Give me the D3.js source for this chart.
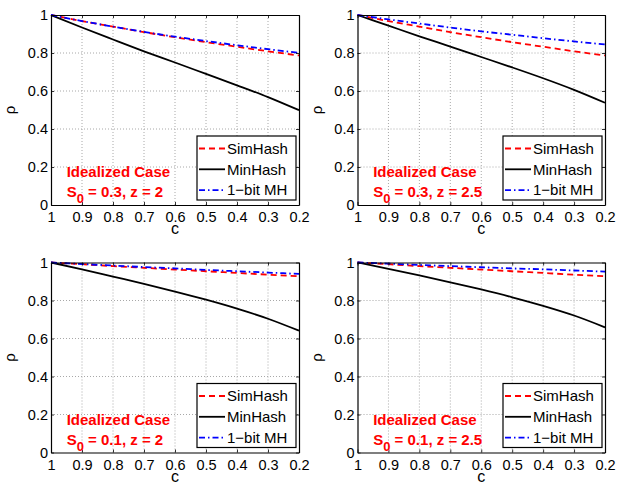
<!DOCTYPE html>
<html>
<head>
<meta charset="utf-8">
<script src="https://cdn.jsdelivr.net/npm/d3@7"></script>
<style>
  html, body { margin: 0; padding: 0; background: #fff; }
  svg { display: block; }
  text { font-family: "Liberation Sans", Arial, Helvetica, sans-serif; }
</style>
</head>
<body>
<svg id="chart" width="618" height="482"></svg>
<script>
// ---------- data ----------
const cValues = [1, 0.9, 0.8, 0.7, 0.6, 0.5, 0.4, 0.3, 0.2];
const xTicks = [1, 0.9, 0.8, 0.7, 0.6, 0.5, 0.4, 0.3, 0.2];
const xTickLabels = ["1", "0.9", "0.8", "0.7", "0.6", "0.5", "0.4", "0.3", "0.2"];
const yTicks = [0, 0.2, 0.4, 0.6, 0.8, 1];
const yTickLabels = ["0", "0.2", "0.4", "0.6", "0.8", "1"];
const seriesNames = ["SimHash", "MinHash", "1\u2212bit MH"];

// panel 1: S0 = 0.3, z = 2
const simHashA = [1, 0.968, 0.939, 0.910, 0.883, 0.857, 0.833, 0.809, 0.787];
const minHashA = [1, 0.934, 0.871, 0.809, 0.750, 0.690, 0.630, 0.568, 0.499];
const oneBitA  = [1, 0.968, 0.939, 0.911, 0.886, 0.863, 0.841, 0.820, 0.801];
// panel 2: S0 = 0.3, z = 2.5
const simHashB = [1, 0.968, 0.939, 0.910, 0.883, 0.857, 0.833, 0.809, 0.787];
const minHashB = [1, 0.944, 0.888, 0.834, 0.779, 0.724, 0.667, 0.606, 0.538];
const oneBitB  = [1, 0.977, 0.955, 0.934, 0.914, 0.896, 0.878, 0.861, 0.845];
// panel 3: S0 = 0.1, z = 2
const simHashC = [1, 0.991, 0.981, 0.972, 0.963, 0.954, 0.945, 0.936, 0.928];
const minHashC = [1, 0.964, 0.926, 0.888, 0.847, 0.804, 0.757, 0.704, 0.641];
const oneBitC  = [1, 0.992, 0.984, 0.976, 0.969, 0.961, 0.954, 0.947, 0.940];
// panel 4: S0 = 0.1, z = 2.5
const simHashD = [1, 0.991, 0.981, 0.972, 0.963, 0.954, 0.945, 0.936, 0.928];
const minHashD = [1, 0.967, 0.932, 0.896, 0.858, 0.817, 0.772, 0.721, 0.659];
const oneBitD  = [1, 0.994, 0.987, 0.981, 0.975, 0.969, 0.964, 0.958, 0.952];

const panelS0 = ["0.3", "0.3", "0.1", "0.1"];
const panelZ  = ["2", "2.5", "2", "2.5"];
const caseLabel = "Idealized Case";

// ---------- layout / style ----------
const panelSeries = [
  [simHashA, minHashA, oneBitA],
  [simHashB, minHashB, oneBitB],
  [simHashC, minHashC, oneBitC],
  [simHashD, minHashD, oneBitD]
];
const panelBoxes = [
  {x: 51, y: 15, w: 248, h: 190},
  {x: 357.5, y: 15, w: 247.5, h: 190},
  {x: 51, y: 262.5, w: 248, h: 190},
  {x: 357.5, y: 262.5, w: 247.5, h: 190}
];
const seriesStyle = [
  {color: "#ff0000", dash: "6,4"},
  {color: "#000000", dash: null},
  {color: "#0000ff", dash: "6,3,1.5,3"}
];
const FONT = 14.5;

const svg = d3.select("#chart");
svg.append("rect").attr("width", 618).attr("height", 482).attr("fill", "#fff");

panelBoxes.forEach((b, pi) => {
  const g = svg.append("g").attr("transform", `translate(${b.x},${b.y})`);
  const x = d3.scaleLinear().domain([1, 0.2]).range([0, b.w]);
  const y = d3.scaleLinear().domain([0, 1]).range([b.h, 0]);

  // grid
  const grid = g.append("g").attr("stroke", "#a8a8a8").attr("stroke-width", 1)
    .attr("stroke-dasharray", "1,2");
  xTicks.slice(1, -1).forEach(t => {
    grid.append("line").attr("x1", x(t)).attr("x2", x(t)).attr("y1", 0).attr("y2", b.h);
  });
  yTicks.slice(1, -1).forEach(t => {
    grid.append("line").attr("x1", 0).attr("x2", b.w).attr("y1", y(t)).attr("y2", y(t));
  });

  // series
  const line = d3.line()
    .x((d, i) => x(cValues[i]))
    .y(d => y(d))
    .curve(d3.curveMonotoneX);
  panelSeries[pi].forEach((vals, si) => {
    g.append("path")
      .datum(vals)
      .attr("d", line)
      .attr("fill", "none")
      .attr("stroke", seriesStyle[si].color)
      .attr("stroke-width", 1.8)
      .attr("stroke-dasharray", seriesStyle[si].dash);
  });

  // axes
  const ax = d3.axisBottom(x).tickValues(xTicks)
    .tickFormat((d, i) => xTickLabels[i]).tickSizeInner(-3).tickSizeOuter(0).tickPadding(7);
  const ay = d3.axisLeft(y).tickValues(yTicks)
    .tickFormat((d, i) => yTickLabels[i]).tickSizeInner(-3).tickSizeOuter(0).tickPadding(3);
  const axTop = d3.axisTop(x).tickValues(xTicks).tickFormat("").tickSizeInner(-3).tickSizeOuter(0);
  const ayRight = d3.axisRight(y).tickValues(yTicks).tickFormat("").tickSizeInner(-3).tickSizeOuter(0);

  [
    g.append("g").attr("transform", `translate(0,${b.h})`).call(ax),
    g.append("g").call(ay),
    g.append("g").call(axTop),
    g.append("g").attr("transform", `translate(${b.w},0)`).call(ayRight)
  ].forEach(a => {
    a.select(".domain").attr("stroke", "#000").attr("stroke-width", 1.2);
    a.selectAll(".tick line").attr("stroke", "#000").attr("stroke-width", 0.8);
    a.selectAll("text").attr("font-size", FONT)
      .attr("font-family", "'Liberation Sans', Arial, Helvetica, sans-serif")
      .attr("fill", "#000");
  });

  // axis labels
  g.append("text")
    .attr("x", b.w / 2).attr("y", b.h + 29)
    .attr("text-anchor", "middle")
    .attr("font-size", 16)
    .text("c");
  g.append("text")
    .attr("transform", `translate(-36,${b.h / 2}) rotate(-90)`)
    .attr("text-anchor", "middle")
    .attr("font-size", 15)
    .text("\u03C1");

  // annotation
  const ann = g.append("g").attr("fill", "#ff0000").attr("font-weight", "bold").attr("font-size", 15);
  ann.append("text").attr("x", 15.7).attr("y", b.h - 28).text(caseLabel);
  const t2 = ann.append("text").attr("x", 15.7).attr("y", b.h - 8);
  t2.append("tspan").text("S");
  t2.append("tspan").attr("dy", 6).attr("font-size", 13).text("0");
  t2.append("tspan").attr("dy", -6).text(` = ${panelS0[pi]}, z = ${panelZ[pi]}`);

  // legend
  const lg = g.append("g").attr("transform", `translate(${b.w - 102},${b.h - 69})`);
  lg.append("rect").attr("width", 99).attr("height", 64)
    .attr("fill", "#fff").attr("stroke", "#000").attr("stroke-width", 1.2);
  seriesNames.forEach((name, si) => {
    const yy = 12.5 + si * 20.8;
    lg.append("line").attr("x1", 2).attr("x2", 28).attr("y1", yy).attr("y2", yy)
      .attr("stroke", seriesStyle[si].color).attr("stroke-width", 1.8)
      .attr("stroke-dasharray", seriesStyle[si].dash);
    lg.append("text").attr("x", 30).attr("y", yy).attr("dy", "0.35em")
      .attr("font-size", 15).text(name);
  });
});
</script>
</body>
</html>
